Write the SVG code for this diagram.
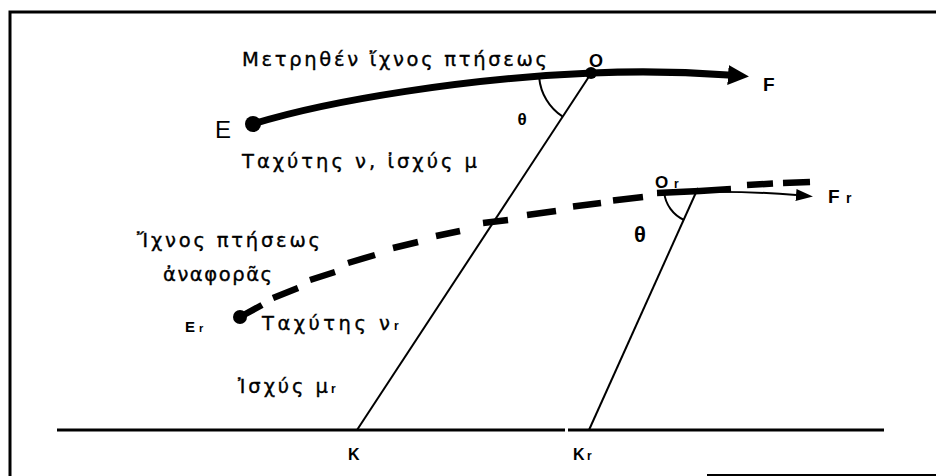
<svg xmlns="http://www.w3.org/2000/svg" width="936" height="476" viewBox="0 0 936 476">
<style>
.bg{fill:#fff}
.frame{stroke:#000;stroke-width:3;fill:none}
.thin{stroke:#000;stroke-width:2;fill:none}
.track{stroke:#000;stroke-width:7;fill:none;stroke-linecap:round}
.dash{stroke:#000;stroke-width:6.5;fill:none;stroke-linecap:butt}
.lbl{font-family:"Liberation Sans","DejaVu Sans",sans-serif;fill:#000}
.g{font-family:"DejaVu Sans","Liberation Sans",sans-serif;font-size:19.5px;stroke:#000;stroke-width:0.35}
.b{font-weight:bold}
</style>
<defs>
<marker id="bigArrow" markerUnits="userSpaceOnUse" markerWidth="22" markerHeight="22" refX="0" refY="10" orient="auto" viewBox="0 0 22 20">
<path d="M0 0 L21 10 L0 20 Z" fill="#000"/>
</marker>
<marker id="smallArrow" markerUnits="userSpaceOnUse" markerWidth="18" markerHeight="12" refX="0" refY="6" orient="auto" viewBox="0 0 18 12">
<path d="M0 0 L17 6 L0 12 Z" fill="#000"/>
</marker>
</defs>
<rect class="bg" x="0" y="0" width="936" height="476"/>
<g id="frame">
<path class="frame" d="M10 476 L10 12 L936 12"/>
<path class="thin" d="M707 475 L936 475"/>
</g>
<g id="ground">
<path class="frame" d="M57 430 L565 430 M568 430 L884 430"/>
</g>
<g id="connectors">
<path id="measured-track" class="track" d="M253 124 C330 100 470 78 592 73 Q660 70 728 75" marker-end="url(#bigArrow)"/>
<path id="reference-track" class="dash" d="M240 317 L262 305 M273 298 L298 288 M310 280 L335 272 M348 263 L375 255 M393 248 L418 242 M436 236 L460 231 M483 223 L508 220 M527 215 L556 211 M573 206.5 L601 203 M613 200.5 L643 197 M657 193 L700 191 L731 189 M747 185 L773 183.5 M783 183 L810 182"/>
<path id="reference-arrow" class="thin" d="M662 193 Q740 190 796 195" marker-end="url(#smallArrow)"/>
<path id="line-OK" class="thin" d="M592 72 L357 430"/>
<path id="line-OrKr" class="thin" d="M698 188 L589 430"/>
<path id="angle-O" class="thin" d="M539.2 77.8 A52 52 0 0 0 562.4 116.4"/>
<path id="angle-Or" class="thin" d="M664.2 192.5 A34 34 0 0 0 684.1 220"/>
</g>
<g id="node-E">
<circle cx="253" cy="124" r="8"/>
<text class="lbl" x="215" y="138" font-size="24">E</text>
</g>
<g id="node-O">
<circle cx="591" cy="73" r="6"/>
<text class="lbl b" x="596" y="67" font-size="18" text-anchor="middle">O</text>
</g>
<g id="node-F">
<text class="lbl b" x="763" y="91" font-size="19">F</text>
</g>
<g id="node-Er">
<circle cx="240" cy="317" r="7"/>
<text class="lbl b" x="185" y="332" font-size="15">E<tspan x="199" font-size="11">r</tspan></text>
</g>
<g id="node-Or">
<text class="lbl b" x="655" y="188" font-size="17">O<tspan x="674" font-size="12">r</tspan></text>
</g>
<g id="node-Fr">
<text class="lbl b" x="828" y="203" font-size="19">F<tspan x="846" font-size="14">r</tspan></text>
</g>
<g id="node-K">
<text class="lbl b" x="348" y="460" font-size="16">K</text>
</g>
<g id="node-Kr">
<text class="lbl b" x="573" y="460" font-size="16">K<tspan x="587" font-size="12">r</tspan></text>
</g>
<g id="angles">
<text class="lbl b" x="522" y="125" font-size="17" text-anchor="middle">θ</text>
<text class="lbl b" x="640" y="242" font-size="22" text-anchor="middle">θ</text>
</g>
<g id="labels">
<text class="lbl g" x="242" y="66" textLength="305" lengthAdjust="spacing">Μετρηθέν ἴχνος πτήσεως</text>
<text class="lbl g" x="242" y="168" textLength="235" lengthAdjust="spacing">Ταχύτης ν, ἰσχύς μ</text>
<text class="lbl g" x="137" y="247" textLength="183" lengthAdjust="spacing">Ἴχνος πτήσεως</text>
<text class="lbl g" x="163" y="281" textLength="109" lengthAdjust="spacing">ἀναφορᾶς</text>
<text class="lbl g" x="262" y="330" textLength="128" lengthAdjust="spacing">Ταχύτης ν</text>
<text class="lbl b" x="394" y="330" font-size="12">r</text>
<text class="lbl g" x="238" y="393" textLength="90" lengthAdjust="spacing">Ἰσχύς μ</text>
<text class="lbl b" x="331" y="393" font-size="12">r</text>
</g>
</svg>
